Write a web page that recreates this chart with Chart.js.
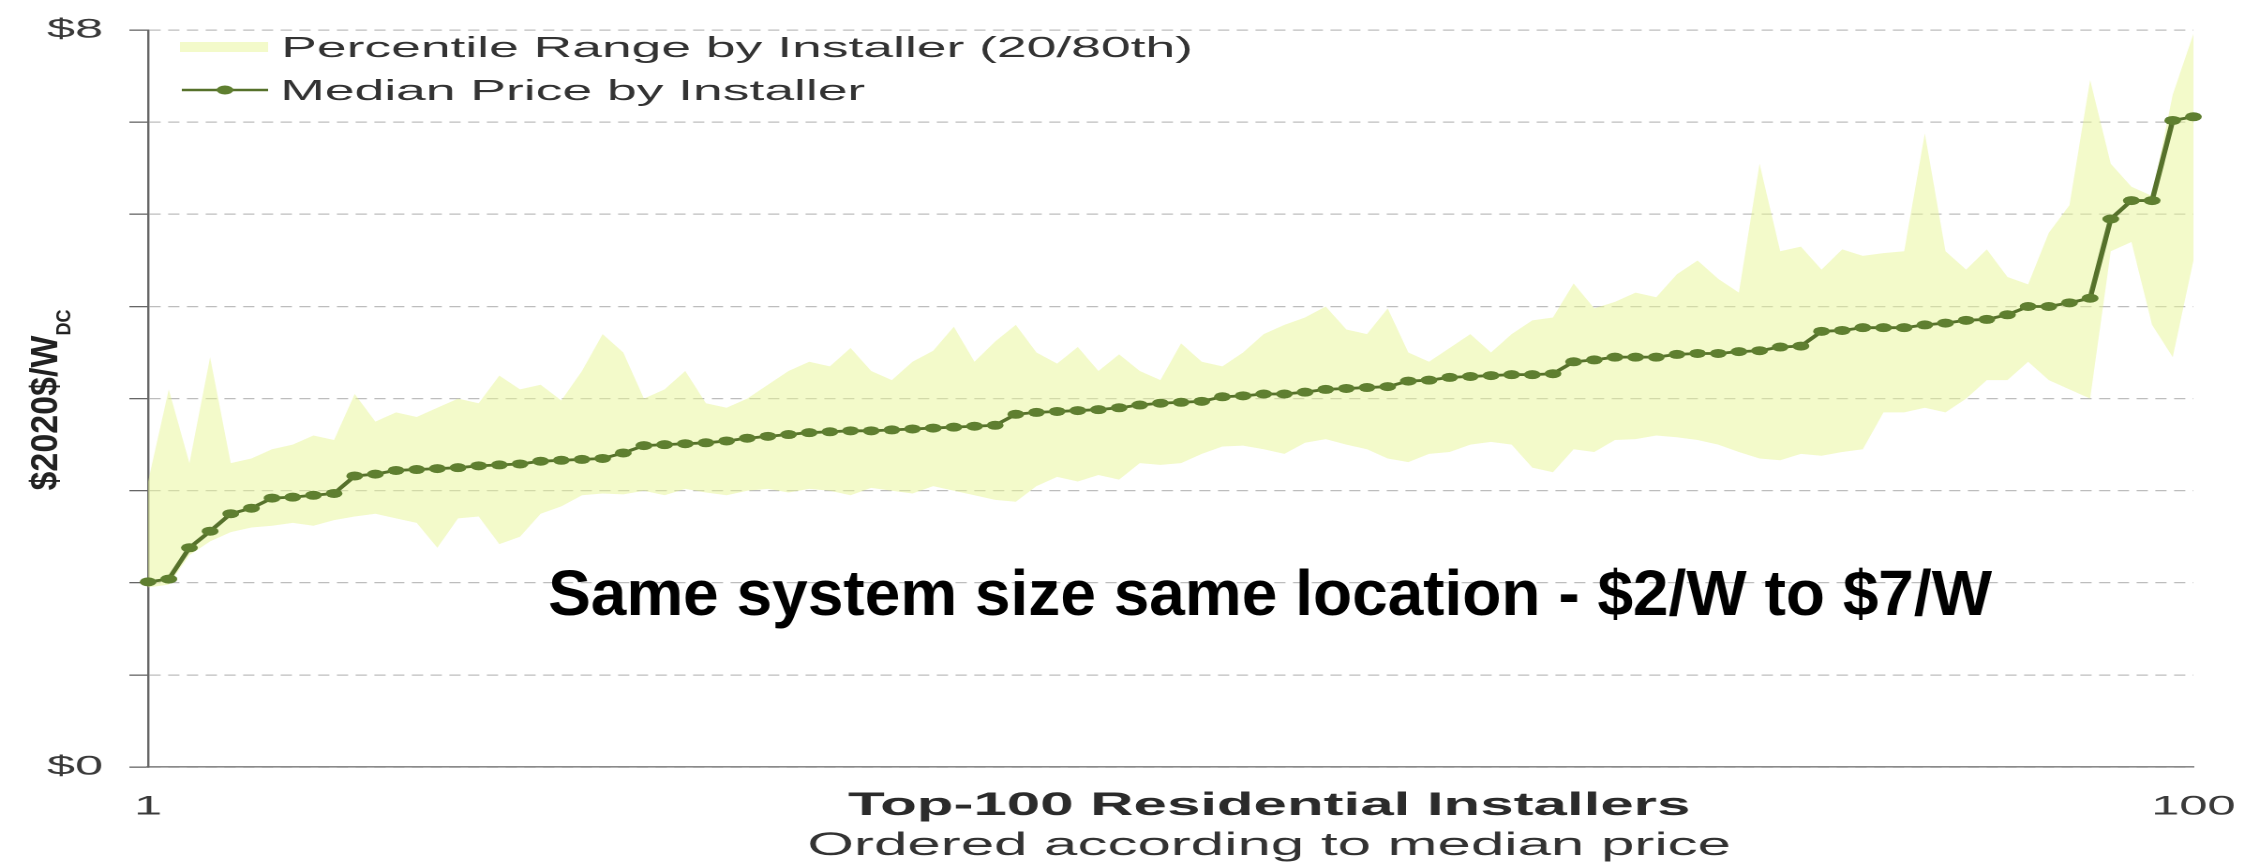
<!DOCTYPE html>
<html>
<head>
<meta charset="utf-8">
<title>Installer price spread</title>
<script src="https://cdn.jsdelivr.net/npm/chart.js@4.4.1/dist/chart.umd.min.js"></script>
<style>
  html, body { margin: 0; padding: 0; background: #ffffff; }
  #chart { display: block; }
</style>
</head>
<body>
<!-- Laid out 1205 units wide and widened to 2259px, which gives the wide
     lettering and oval markers of this figure. -->
<canvas id="chart" width="1205" height="864" style="width:2259px;height:864px;"></canvas>
<script>
// Installers ranked 1..100 by their median price
const ranks = Array.from({ length: 100 }, (_, i) => i + 1);

// Median installed price ($2020 per W DC) for each ranked installer
const medianPrice = [
  2.01, 2.04, 2.38, 2.56, 2.75, 2.81, 2.92, 2.93, 2.95, 2.97,
  3.16, 3.18, 3.22, 3.23, 3.24, 3.25, 3.27, 3.28, 3.29, 3.32,
  3.33, 3.34, 3.35, 3.41, 3.49, 3.50, 3.51, 3.52, 3.54, 3.57,
  3.59, 3.61, 3.63, 3.64, 3.65, 3.65, 3.66, 3.67, 3.68, 3.69,
  3.70, 3.71, 3.83, 3.85, 3.86, 3.87, 3.88, 3.90, 3.93, 3.95,
  3.96, 3.97, 4.02, 4.03, 4.05, 4.05, 4.07, 4.10, 4.11, 4.12,
  4.13, 4.19, 4.20, 4.23, 4.24, 4.25, 4.26, 4.26, 4.27, 4.40,
  4.42, 4.45, 4.45, 4.45, 4.48, 4.49, 4.49, 4.51, 4.52, 4.56,
  4.57, 4.73, 4.74, 4.77, 4.77, 4.77, 4.80, 4.82, 4.85, 4.86,
  4.91, 5.00, 5.00, 5.04, 5.09, 5.95, 6.15, 6.15, 7.02, 7.06
];

// 80th percentile price per installer (top of the shaded range)
const p80Price = [
  3.10, 4.10, 3.30, 4.45, 3.30, 3.35, 3.45, 3.50, 3.60, 3.55,
  4.05, 3.75, 3.85, 3.80, 3.90, 4.00, 3.95, 4.25, 4.10, 4.15,
  3.98, 4.30, 4.70, 4.50, 4.00, 4.10, 4.30, 3.95, 3.90, 4.00,
  4.15, 4.30, 4.40, 4.35, 4.55, 4.30, 4.20, 4.40, 4.52, 4.78,
  4.40, 4.62, 4.80, 4.50, 4.38, 4.56, 4.30, 4.48, 4.30, 4.20,
  4.60, 4.40, 4.35, 4.50, 4.70, 4.80, 4.88, 5.00, 4.75, 4.70,
  4.98, 4.50, 4.40, 4.55, 4.70, 4.50, 4.70, 4.85, 4.88, 5.25,
  4.98, 5.05, 5.15, 5.10, 5.35, 5.50, 5.30, 5.15, 6.55, 5.60,
  5.65, 5.40, 5.62, 5.55, 5.58, 5.60, 6.88, 5.60, 5.40, 5.62,
  5.32, 5.24, 5.80, 6.10, 7.46, 6.55, 6.30, 6.20, 7.30, 7.96
];

// 20th percentile price per installer (bottom of the shaded range)
const p20Price = [
  1.95, 1.98, 2.30, 2.45, 2.55, 2.60, 2.62, 2.65, 2.62, 2.68,
  2.72, 2.75, 2.70, 2.65, 2.38, 2.70, 2.72, 2.42, 2.50, 2.75,
  2.83, 2.95, 2.97, 2.96, 3.00, 2.95, 3.02, 2.98, 2.95, 3.00,
  3.02, 2.98, 3.02, 3.00, 2.95, 3.03, 3.00, 2.97, 3.05, 3.00,
  2.95, 2.90, 2.88, 3.05, 3.15, 3.10, 3.17, 3.12, 3.30, 3.28,
  3.30, 3.40, 3.48, 3.49, 3.45, 3.40, 3.52, 3.56, 3.50, 3.45,
  3.35, 3.31, 3.40, 3.42, 3.50, 3.53, 3.50, 3.25, 3.20, 3.45,
  3.42, 3.55, 3.56, 3.60, 3.58, 3.55, 3.50, 3.42, 3.35, 3.33,
  3.40, 3.38, 3.42, 3.45, 3.85, 3.85, 3.90, 3.85, 4.00, 4.20,
  4.20, 4.40, 4.20, 4.10, 4.00, 5.60, 5.70, 4.80, 4.45, 5.50
];

// Tick labels: only the ends of each axis are labelled
const yTickLabels = { 0: '$0', 8: '$8' };
const xTickLabels = { 1: '1', 100: '100' };

const STRETCH = 2259 / 1205;
const FONT = "'Liberation Sans', Arial, Helvetica, sans-serif";
const BAND = 'rgba(232, 245, 150, 0.5)';
const OLIVE_LINE = '#56712b';
const OLIVE_DOT = '#5f7f30';

Chart.defaults.font.family = FONT;

// Legend in the upper-left corner of the plot
const cornerLegend = {
  id: 'cornerLegend',
  afterDraw(chart) {
    const ctx = chart.ctx;
    const [median, upper] = chart.data.datasets;
    ctx.save();
    ctx.fillStyle = BAND;
    ctx.fillRect(96, 42, 47, 10);
    ctx.strokeStyle = OLIVE_LINE;
    ctx.lineWidth = 2.5;
    ctx.beginPath();
    ctx.moveTo(97, 90);
    ctx.lineTo(143, 90);
    ctx.stroke();
    ctx.fillStyle = OLIVE_DOT;
    ctx.beginPath();
    ctx.arc(120, 90, 4.5, 0, Math.PI * 2);
    ctx.fill();
    ctx.fillStyle = '#333333';
    ctx.font = '28.5px ' + FONT;
    ctx.textAlign = 'left';
    ctx.textBaseline = 'alphabetic';
    ctx.fillText(upper.label, 150, 57);
    ctx.fillText(median.label, 149.5, 100);
    ctx.restore();
  }
};

// Axis titles and the overlaid remark
const chartText = {
  id: 'chartText',
  afterDraw(chart) {
    const ctx = chart.ctx;
    ctx.save();

    // x-axis title and sub-title
    ctx.textAlign = 'center';
    ctx.textBaseline = 'alphabetic';
    ctx.fillStyle = '#2b2b2b';
    ctx.font = 'bold 32px ' + FONT;
    ctx.fillText('Top-100 Residential Installers', 677, 815);
    ctx.fillStyle = '#333333';
    ctx.font = '32px ' + FONT;
    ctx.fillText('Ordered according to median price', 677, 855);

    // rotated y-axis title with subscript, kept close to natural width
    ctx.save();
    ctx.translate(30.5, 400);
    ctx.scale(0.6, 1);
    ctx.rotate(-Math.PI / 2);
    ctx.textAlign = 'left';
    ctx.fillStyle = '#222222';
    ctx.font = 'bold 34px ' + FONT;
    const mainText = '$2020$/W';
    const wMain = ctx.measureText(mainText).width;
    ctx.font = 'bold 18px ' + FONT;
    const wSub = ctx.measureText('DC').width;
    const start = -(wMain + wSub) / 2;
    ctx.font = 'bold 34px ' + FONT;
    ctx.fillText(mainText, start, 0);
    ctx.font = 'bold 18px ' + FONT;
    ctx.fillText('DC', start + wMain, 12);
    ctx.restore();

    // remark drawn at natural proportions over the widened canvas
    ctx.save();
    ctx.scale(1 / STRETCH, 1);
    ctx.textAlign = 'left';
    ctx.fillStyle = '#000000';
    ctx.font = 'bold 64px ' + FONT;
    ctx.fillText('Same system size same location - $2/W to $7/W', 548, 615);
    ctx.restore();

    ctx.restore();
  }
};

new Chart(document.getElementById('chart'), {
  type: 'line',
  data: {
    labels: ranks,
    datasets: [
      {
        label: 'Median Price by Installer',
        data: medianPrice,
        borderColor: OLIVE_LINE,
        borderWidth: 2.8,
        pointRadius: 4.5,
        pointBackgroundColor: OLIVE_DOT,
        pointBorderWidth: 0,
        tension: 0,
        fill: false,
        order: 0
      },
      {
        label: 'Percentile Range by Installer (20/80th)',
        data: p80Price,
        borderColor: 'transparent',
        borderWidth: 0,
        pointRadius: 0,
        backgroundColor: BAND,
        fill: '+1',
        tension: 0,
        order: 1
      },
      {
        label: '20th percentile',
        data: p20Price,
        borderColor: 'transparent',
        borderWidth: 0,
        pointRadius: 0,
        fill: false,
        tension: 0,
        order: 2
      }
    ]
  },
  options: {
    responsive: false,
    devicePixelRatio: 2,
    animation: false,
    events: [],
    layout: { padding: { top: 23, right: 35, left: 0, bottom: 0 }, autoPadding: false },
    plugins: {
      legend: { display: false },
      tooltip: { enabled: false },
      title: { display: false }
    },
    scales: {
      x: {
        type: 'category',
        offset: false,
        grid: { display: false, drawTicks: false },
        border: { display: true, color: '#8a8a8a', width: 1.6 },
        ticks: {
          autoSkip: false,
          maxRotation: 0,
          padding: 24,
          color: '#3a3a3a',
          font: { size: 27 },
          callback: (value, index) => xTickLabels[ranks[index]] ?? ''
        },
        afterFit: (scale) => {
          scale.height = 97;
          // the end labels may hang past the plot edges
          scale.paddingLeft = 0;
          scale.paddingRight = 0;
        }
      },
      y: {
        type: 'linear',
        min: 0,
        max: 8,
        ticks: {
          stepSize: 1,
          padding: 14,
          color: '#3a3a3a',
          font: { size: 27 },
          callback: (value) => yTickLabels[value] ?? ''
        },
        grid: {
          color: '#bdbdbd',
          lineWidth: 1.3,
          drawTicks: true,
          tickLength: 10,
          tickColor: '#666666',
          tickWidth: 1.3
        },
        border: { display: true, color: '#666666', width: 1.2, dash: [6, 4] },
        afterFit: (scale) => { scale.width = 79; }
      }
    }
  },
  plugins: [cornerLegend, chartText]
});
</script>
</body>
</html>
